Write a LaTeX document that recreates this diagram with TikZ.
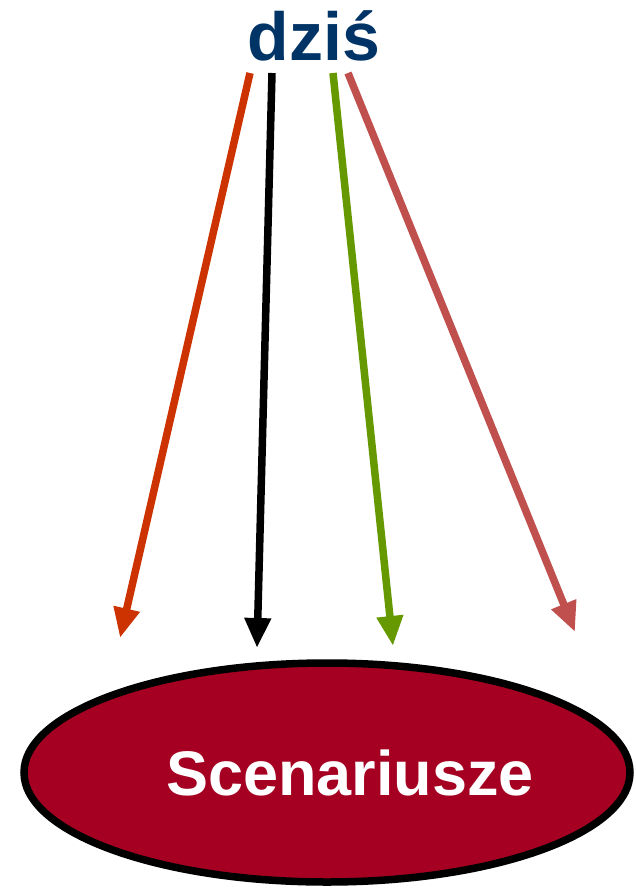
\documentclass[tikz,border=0pt]{standalone}
\usepackage{fontspec}
\setmainfont{Liberation Sans}
\usetikzlibrary{shapes.geometric,arrows.meta}
\definecolor{dzblue}{RGB}{0,51,102}
\definecolor{scred}{RGB}{165,0,33}
\definecolor{arrorange}{RGB}{204,51,0}
\definecolor{arrgreen}{RGB}{102,153,0}
\definecolor{arrrose}{RGB}{192,80,77}
\tikzset{
  conn/.style={line width=7.5pt,-{Triangle[width=25pt,length=30pt]}},
}
\begin{document}
\begin{tikzpicture}[x=1pt,y=-1pt]
\useasboundingbox (0,0) rectangle (636,889);
\node[anchor=base,text=dzblue,font=\bfseries\fontsize{68}{80}\selectfont,inner sep=0] (dzis) at (314,60) {dziś};
\node[ellipse,draw=black,line width=7.5pt,fill=scred,minimum width=606pt,minimum height=219pt,inner sep=0] (scen) at (327,772.5) {};
\node[text=white,font=\bfseries\fontsize{63}{75}\selectfont,inner sep=0] (sctext) at (350,773) {Scenariusze};
\coordinate (s1) at (250,73);
\coordinate (s2) at (272,73);
\coordinate (s3) at (333,73);
\coordinate (s4) at (348,73);
\coordinate (e1) at (120,638);
\coordinate (e2) at (257,648);
\coordinate (e3) at (393,646);
\coordinate (e4) at (575,632);
\draw[conn,arrorange] (s1) -- (e1);
\draw[conn,black] (s2) -- (e2);
\draw[conn,arrgreen] (s3) -- (e3);
\draw[conn,arrrose] (s4) -- (e4);
\end{tikzpicture}
\end{document}
